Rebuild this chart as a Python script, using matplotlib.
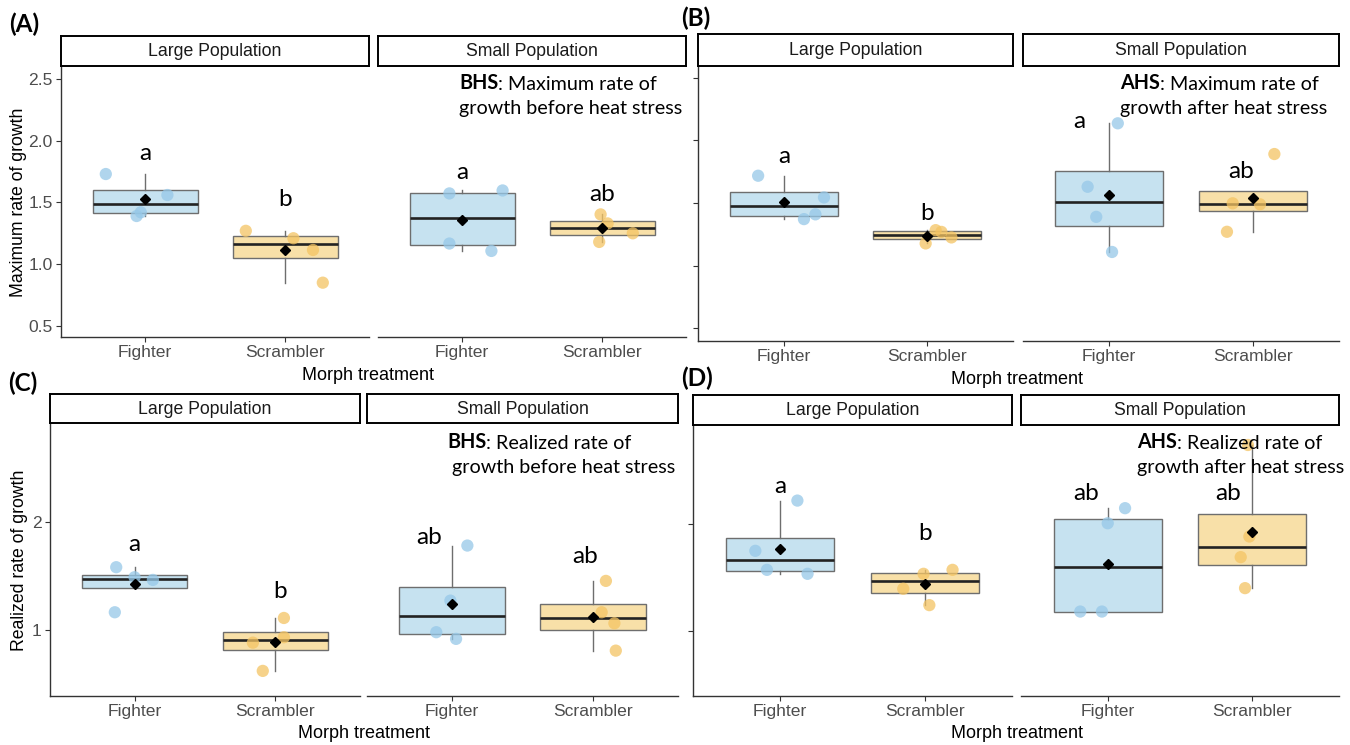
import matplotlib
matplotlib.use("Agg")
import matplotlib.pyplot as plt

W, H = 1350, 745

morphs = ["Fighter", "Scrambler"]
populations = ["Large Population", "Small Population"]

# (A) maximum rate of growth, before heat stress
a_large = [[1.73, 1.56, 1.42, 1.39], [1.27, 1.21, 1.115, 0.85]]
a_small = [[1.573, 1.597, 1.167, 1.107], [1.403, 1.33, 1.18, 1.25]]
a_large_jit = [[-0.28, 0.16, -0.03, -0.06], [-0.28, 0.06, 0.20, 0.27]]
a_small_jit = [[-0.09, 0.29, -0.09, 0.21], [-0.01, 0.04, -0.02, 0.22]]
a_letters = [["a", "b"], ["a", "ab"]]
a_letter_y = [[1.847, 1.47], [1.686, 1.51]]
a_letter_dx = [[0, 0], [0, 0]]

# (B) maximum rate of growth, after heat stress
b_large = [[1.718, 1.545, 1.41, 1.372], [1.284, 1.27, 1.226, 1.178]]
b_small = [[2.136, 1.63, 1.39, 1.11], [1.891, 1.498, 1.49, 1.271]]
b_large_jit = [[-0.18, 0.28, 0.22, 0.14], [0.06, 0.10, 0.17, -0.01]]
b_small_jit = [[0.06, -0.15, -0.09, 0.02], [0.15, -0.14, 0.05, -0.18]]
b_letters = [["a", "b"], ["a", "ab"]]
b_letter_y = [[1.822, 1.364], [2.096, 1.697]]
b_letter_dx = [[0, 0], [-0.21, -0.08]]

# (C) realized rate of growth, before heat stress
c_large = [[1.582, 1.489, 1.464, 1.164], [1.111, 0.932, 0.882, 0.62]]
c_small = [[1.783, 1.272, 0.979, 0.917], [1.455, 1.164, 1.062, 0.808]]
c_large_jit = [[-0.13, 0.0, 0.13, -0.14], [0.06, 0.06, -0.16, -0.09]]
c_small_jit = [[0.11, -0.01, -0.11, 0.03], [0.09, 0.06, 0.15, 0.16]]
c_letters = [["a", "b"], ["ab", "ab"]]
c_letter_y = [[1.733, 1.294], [1.798, 1.619]]
c_letter_dx = [[0, 0.03], [-0.16, -0.06]]

# (D) realized rate of growth, after heat stress
d_large = [[2.218, 1.748, 1.57, 1.533], [1.57, 1.533, 1.393, 1.24]]
d_small = [[2.147, 2.006, 1.18, 1.18], [2.738, 1.882, 1.689, 1.399]]
d_large_jit = [[0.12, -0.17, -0.09, 0.19], [0.19, -0.01, -0.15, 0.03]]
d_small_jit = [[0.12, 0.0, -0.19, -0.04], [-0.03, -0.02, -0.08, -0.05]]
d_letters = [["a", "b"], ["ab", "ab"]]
d_letter_y = [[2.29, 1.85], [2.224, 2.224]]
d_letter_dx = [[0, 0], [-0.15, -0.17]]

max_ticks = [0.5, 1.0, 1.5, 2.0, 2.5]
real_ticks = [1, 2]

box_fill = ["#c6e2f0", "#f8e0a8"]
point_col = ["#96c8e8", "#f4c463"]

SANS = "Liberation Sans"
CAL = "Lato"

fig = plt.figure(figsize=(W / 100, H / 100), dpi=100)


def px_axes(x0, y0, x1, y1):
    return fig.add_axes([x0 / W, 1 - y1 / H, (x1 - x0) / W, (y1 - y0) / H])


def draw_facet(box, strip_top, pop, groups, jit, letters, ly, ldx,
               ylim, ticks, first, show_ylab):
    x0, y0, x1, y1 = box
    ax = px_axes(x0, y0, x1, y1)
    for i in range(2):
        pos = i + 1
        ax.boxplot([groups[i]], positions=[pos], widths=0.75, whis=1.5,
                   showfliers=False, showcaps=False, showmeans=True,
                   patch_artist=True, zorder=2,
                   boxprops=dict(facecolor=box_fill[i], edgecolor="#6e6e6e", linewidth=1.0),
                   medianprops=dict(color="#222222", linewidth=1.9),
                   whiskerprops=dict(color="#6e6e6e", linewidth=1.0),
                   meanprops=dict(marker="D", markerfacecolor="black",
                                  markeredgecolor="black", markersize=5.5, zorder=5))
        xs = [pos + d for d in jit[i]]
        ax.scatter(xs, groups[i], s=78, color=point_col[i], alpha=0.75,
                   edgecolors="none", zorder=3)
        ax.text(pos + ldx[i], ly[i], letters[i], family=CAL, fontsize=17.5,
                ha="center", va="baseline", color="black", zorder=6)
    ax.set_xlim(0.4, 2.6)
    ax.set_ylim(*ylim)
    ax.set_xticks([1, 2])
    ax.set_xticklabels(morphs, family=SANS, fontsize=12.6, color="#4d4d4d")
    for s in ["top", "right"]:
        ax.spines[s].set_visible(False)
    ax.spines["bottom"].set_color("#333333")
    ax.spines["bottom"].set_linewidth(1.0)
    if first:
        ax.spines["left"].set_color("#333333")
        ax.spines["left"].set_linewidth(1.0)
        ax.set_yticks(ticks)
        if show_ylab:
            ax.set_yticklabels([("%g" % t if len(ticks) < 3 else "%.1f" % t) for t in ticks],
                               family=SANS, fontsize=12.6, color="#4d4d4d")
        else:
            ax.set_yticklabels([])
    else:
        ax.spines["left"].set_visible(False)
        ax.set_yticks([])
    ax.tick_params(axis="both", direction="out", length=3.5, width=0.8,
                   color="#333333", pad=2.5)
    ax.patch.set_alpha(0)

    st = px_axes(x0, strip_top, x1, y0)
    st.set_xticks([])
    st.set_yticks([])
    for s in st.spines.values():
        s.set_linewidth(1.4)
        s.set_color("black")
    st.text(0.5, 0.47, pop, family=SANS, fontsize=12.7, color="#1a1a1a",
            ha="center", va="center", transform=st.transAxes)
    return ax


panels = [
    dict(boxes=[(61, 66, 369, 337), (378, 66, 686, 337)], strip=36,
         data=[a_large, a_small], jit=[a_large_jit, a_small_jit],
         letters=a_letters, ly=a_letter_y, ldx=a_letter_dx,
         ylim=(0.41, 2.605), ticks=max_ticks, ylab=True),
    dict(boxes=[(698, 66, 1013, 341), (1023, 66, 1339, 341)], strip=34,
         data=[b_large, b_small], jit=[b_large_jit, b_small_jit],
         letters=b_letters, ly=b_letter_y, ldx=b_letter_dx,
         ylim=(0.40, 2.593), ticks=max_ticks, ylab=False),
    dict(boxes=[(50, 423, 360, 696), (367, 423, 678, 696)], strip=394,
         data=[c_large, c_small], jit=[c_large_jit, c_small_jit],
         letters=c_letters, ly=c_letter_y, ldx=c_letter_dx,
         ylim=(0.387, 2.92), ticks=real_ticks, ylab=True),
    dict(boxes=[(693, 425, 1012, 696), (1021, 425, 1339, 696)], strip=395,
         data=[d_large, d_small], jit=[d_large_jit, d_small_jit],
         letters=d_letters, ly=d_letter_y, ldx=d_letter_dx,
         ylim=(0.39, 2.925), ticks=real_ticks, ylab=False),
]

for p in panels:
    for k in range(2):
        draw_facet(p["boxes"][k], p["strip"], populations[k], p["data"][k],
                   p["jit"][k], p["letters"][k], p["ly"][k], p["ldx"][k],
                   p["ylim"], p["ticks"], k == 0, p["ylab"])

# overlay in pixel coordinates for labels and notes
ov = fig.add_axes([0, 0, 1, 1], zorder=10)
ov.set_xlim(0, W)
ov.set_ylim(H, 0)
ov.axis("off")

for lab, x, y in [("(A)", 9, 24), ("(B)", 681, 18), ("(C)", 8, 383), ("(D)", 681, 378)]:
    ov.text(x, y, lab, family=CAL, fontweight="bold", fontsize=17.5,
            ha="left", va="center")

for x, y in [(368, 375), (1017, 379), (364, 733), (1017, 733)]:
    ov.text(x, y, "Morph treatment", family=SANS, fontsize=13,
            ha="center", va="center", color="black")

ov.text(19, 202, "Maximum rate of growth", family=SANS, fontsize=12.7,
        rotation=90, ha="center", va="center")
ov.text(20, 560, "Realized rate of growth", family=SANS, fontsize=12.7,
        rotation=90, ha="center", va="center")

notes = [
    ("BHS", ": Maximum rate of", "growth before heat stress", 459, 93, 459, 117),
    ("AHS", ": Maximum rate of", "growth after heat stress", 1120, 93, 1120, 117),
    ("BHS", ": Realized rate of", " growth before heat stress", 447, 452, 447, 476),
    ("AHS", ": Realized rate of", "growth after heat stress", 1137, 452, 1137, 476),
]
for bold, rest, line2, x1, y1, x2, y2 in notes:
    t = ov.text(x1, y1, bold, family=CAL, fontweight="bold", fontsize=14.2,
                ha="left", va="bottom")
    ov.annotate(rest, xy=(1, 0), xycoords=t, family=CAL, fontsize=14.2,
                ha="left", va="bottom")
    ov.text(x2, y2, line2, family=CAL, fontsize=14.2, ha="left", va="bottom")

fig.savefig("out.png", dpi=100)
